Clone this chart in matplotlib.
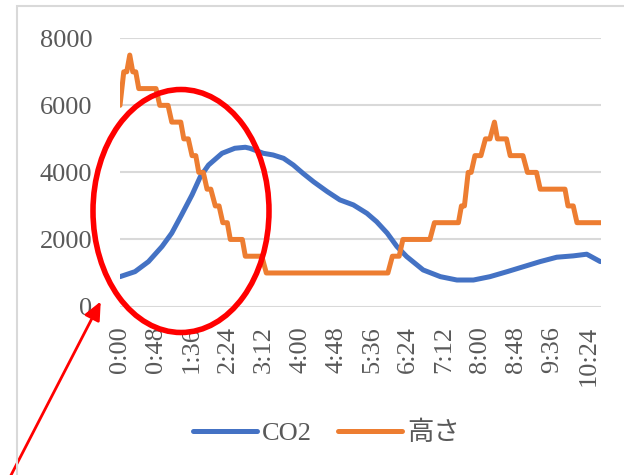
import matplotlib.pyplot as plt
from matplotlib.patches import Ellipse, Rectangle

plt.rcParams['font.family'] = ['Liberation Serif', 'Noto Sans CJK JP']

# CO2 readings (minutes from start, ppm)
co2_t = [0, 20, 38, 56, 69, 82, 96, 107, 118, 136, 153, 167, 173, 191, 204, 218,
         231, 244, 258, 276, 293, 311, 329, 342, 356, 369, 382, 404, 427, 449,
         471, 493, 516, 538, 560, 582, 604, 622, 640]
co2_v = [890, 1040, 1340, 1790, 2190, 2730, 3330, 3870, 4220, 4570, 4720, 4750,
         4720, 4570, 4520, 4420, 4220, 3970, 3720, 3430, 3180, 3030, 2780, 2530,
         2190, 1790, 1490, 1090, 890, 790, 790, 890, 1040, 1190, 1340, 1470,
         1510, 1560, 1340]

# height readings (corners of the step line)
h_t = [0, 5, 9, 13, 17, 21, 25, 48, 53, 64, 69, 81, 85, 91, 96, 101, 105, 111,
       116, 121, 127, 132, 137, 143, 147, 163, 167, 189, 195, 357, 363, 372,
       377, 413, 419, 451, 455, 459, 464, 468, 473, 481, 487, 493, 499, 503,
       515, 520, 537, 543, 555, 560, 593, 597, 604, 609, 641]
h_v = [6000, 7000, 7000, 7500, 7000, 7000, 6500, 6500, 6000, 6000, 5500, 5500,
       5000, 5000, 4500, 4500, 4000, 4000, 3500, 3500, 3000, 3000, 2500, 2500,
       2000, 2000, 1500, 1500, 1000, 1000, 1500, 1500, 2000, 2000, 2500, 2500,
       3000, 3000, 4000, 4000, 4500, 4500, 5000, 5000, 5500, 5000, 5000, 4500,
       4500, 4000, 4000, 3500, 3500, 3000, 3000, 2500, 2500]

tick_min = list(range(0, 625, 48))
tick_lbl = [f"{m // 60}:{m % 60:02d}" for m in tick_min]

W, H = 624, 475
fig = plt.figure(figsize=(W / 100, H / 100), dpi=100)
ax = fig.add_axes([120 / W, 1 - 306.5 / H, 481 / W, 268.2 / H])

ax.plot(co2_t, co2_v, color='#4472C4', lw=3.6, label='CO2',
        solid_capstyle='round', solid_joinstyle='round')
ax.plot(h_t, h_v, color='#ED7D31', lw=3.6, label='高さ',
        solid_capstyle='round', solid_joinstyle='round')

ax.set_xlim(0, 641)
ax.set_ylim(0, 8000)
ax.set_yticks(range(0, 8001, 2000))
ax.set_xticks(tick_min)
ax.set_xticklabels(tick_lbl, rotation=90)
ax.grid(axis='y', color='#d9d9d9', lw=1.5)
ax.set_axisbelow(True)
for s in ax.spines.values():
    s.set_visible(False)
ax.tick_params(length=0, colors='#595959', labelsize=19)
ax.tick_params(axis='y', pad=20)
ax.tick_params(axis='x', pad=14)

fig.legend(loc='center', bbox_to_anchor=(326.5 / W, 1 - 433 / H), ncol=2,
           frameon=False, fontsize=19, labelcolor='#595959', handlelength=2.4,
           handletextpad=0.2, columnspacing=1.0)

# chart border
fig.add_artist(Rectangle((17 / W, -0.1), 1.2, 1 - 6 / H + 0.1, transform=fig.transFigure,
                         fill=False, ec='#d9d9d9', lw=1.5))

# red annotations
fig.add_artist(Ellipse((181 / W, 1 - 211 / H), 176 / W, 243 / H, transform=fig.transFigure,
                       fill=False, ec='#ff0000', lw=4))
ax.annotate('', xy=(102, H - 299), xycoords='figure pixels',
            xytext=(8, -6), textcoords='figure pixels',
            arrowprops=dict(arrowstyle='-|>,head_length=1.1,head_width=0.5',
                            color='#ff0000', lw=2), annotation_clip=False)

fig.savefig('out.png', dpi=100)
